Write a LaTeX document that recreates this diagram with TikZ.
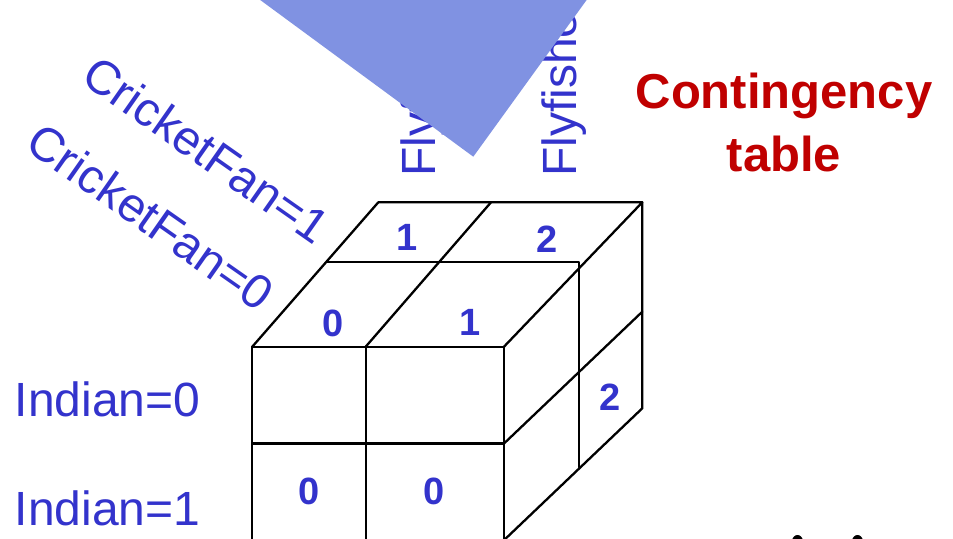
\documentclass[tikz,border=0pt]{standalone}
\usepackage{fontspec}
\setmainfont{Liberation Sans}
\definecolor{lblblue}{HTML}{3333CC}
\definecolor{polyblue}{HTML}{8092E2}
\definecolor{titlered}{HTML}{C00000}
\tikzset{
  cubeline/.style={line width=2.3bp, black, line cap=round, line join=round},
  axislabel/.style={text=lblblue, inner sep=0pt, font=\fontsize{48bp}{56bp}\selectfont},
  countlabel/.style={text=lblblue, inner sep=0pt, font=\fontsize{38bp}{44bp}\selectfont\bfseries},
  titlelabel/.style={text=titlered, inner sep=0pt, anchor=base, font=\fontsize{49bp}{56bp}\selectfont\bfseries}
}
\begin{document}
\begin{tikzpicture}[x=1bp,y=-1bp]
\useasboundingbox (0,0) rectangle (953,539);
\clip (0,0) rectangle (953,539);
\fill[white] (0,0) rectangle (953,539);

% cube corner coordinates
\coordinate (A) at (252.3,346.7);
\coordinate (B) at (365.7,346.7);
\coordinate (C) at (504,346.7);
\coordinate (A2) at (252.3,443.5);
\coordinate (B2) at (365.7,443.5);
\coordinate (C2) at (504,443.5);
\coordinate (A3) at (252.3,570);
\coordinate (B3) at (365.7,570);
\coordinate (C3) at (504,570);
\coordinate (D) at (378.3,202.3);
\coordinate (E) at (491,202.3);
\coordinate (F) at (642.3,202.3);
\coordinate (G) at (327.3,261.7);
\coordinate (H) at (579.3,261.7);
\coordinate (I) at (579.3,467.3);
\coordinate (K) at (642.3,311.7);
\coordinate (L) at (642.3,408.3);
\coordinate (M) at (470,572.6);

% Flyfisher labels (partly hidden)
\node[axislabel, rotate=90, anchor=base west] (fly0) at (435,177) {Flyfisher=0};
\node[axislabel, rotate=90, anchor=base west] (fly1) at (576.7,177) {Flyfisher=1};

% blue polygon
\fill[polyblue] (180,-59) -- (473.3,156.7) -- (630,-60) -- cycle;

% CricketFan labels
\node[axislabel, rotate=-35] (cf1) at (206.7,150) {CricketFan=1};
\node[axislabel, rotate=-35] (cf0) at (150.8,216.7) {CricketFan=0};

% Indian labels
\node[axislabel, anchor=base west] (ind0) at (14.5,416.7) {Indian=0};
\node[axislabel, anchor=base west] (ind1) at (14.5,525) {Indian=1};

% title
\node[titlelabel] (t1) at (784,108.5) {Contingency};
\node[titlelabel] (t2) at (784,171.7) {table};

% cube
\draw[cubeline] (A) -- (C);
\draw[cubeline] (A) -- (A3);
\draw[cubeline] (B) -- (B3);
\draw[cubeline] (C) -- (C3);
\draw[cubeline] (A2) -- (C2);
\draw[cubeline] (A) -- (D) -- (F) -- (C);
\draw[cubeline] (B) -- (E);
\draw[cubeline] (G) -- (H) -- (I);
\draw[cubeline] (F) -- (L) -- (M);
\draw[cubeline] (C2) -- (K);

% counts
\node[countlabel] (n1) at (407.3,237.5) {1};
\node[countlabel] (n2) at (547.5,239.7) {2};
\node[countlabel] (n3) at (333.3,323.7) {0};
\node[countlabel] (n4) at (470.5,322.8) {1};
\node[countlabel] (n5) at (609.7,397) {2};
\node[countlabel] (n6) at (309.2,491.7) {0};
\node[countlabel] (n7) at (434.2,491.7) {0};

% cut-off dark marks at bottom right
\fill[black] (797.5,541.5) ellipse [x radius=5.5, y radius=6.5];
\fill[black] (857.5,541.5) ellipse [x radius=5.5, y radius=6.5];
\end{tikzpicture}
\end{document}
